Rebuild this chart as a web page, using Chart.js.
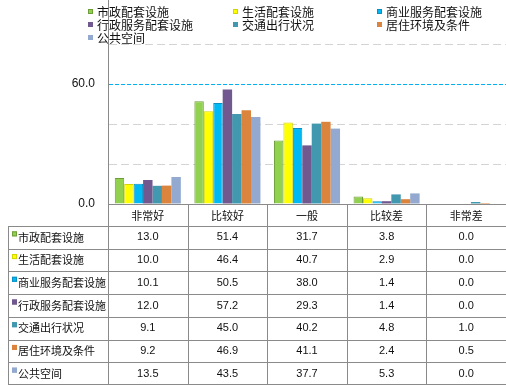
<!DOCTYPE html>
<html>
<head>
<meta charset="utf-8">
<script src="https://cdn.jsdelivr.net/npm/chart.js@4"></script>
<style>
  html, body { margin: 0; padding: 0; background: #fff; }
  #wrap { position: relative; width: 506px; height: 385px; }
</style>
</head>
<body>
<div id="wrap"><canvas id="chart"></canvas></div>
<script>
// categories on the x axis
const categories = ['非常好', '比较好', '一般', '比较差', '非常差'];

// series names
const seriesNames = ['市政配套设施', '生活配套设施', '商业服务配套设施', '行政服务配套设施', '交通出行状况', '居住环境及条件', '公共空间'];

// series values (%)
const shizheng  = [13.0, 51.4, 31.7, 3.8, 0.0];
const shenghuo  = [10.0, 46.4, 40.7, 2.9, 0.0];
const shangye   = [10.1, 50.5, 38.0, 1.4, 0.0];
const xingzheng = [12.0, 57.2, 29.3, 1.4, 0.0];
const jiaotong  = [9.1, 45.0, 40.2, 4.8, 1.0];
const juzhu     = [9.2, 46.9, 41.1, 2.4, 0.5];
const gonggong  = [13.5, 43.5, 37.7, 5.3, 0.0];

// y tick labels that are printed
const yTickLabels = [0, 60];

const seriesValues = [shizheng, shenghuo, shangye, xingzheng, jiaotong, juzhu, gonggong];
const fills   = ['#92D050', '#FFFF00', '#00B8F4', '#71588F', '#4198AF', '#DB843D', '#93A9CF'];
const edges   = ['#6E9E3A', '#D4D400', '#0A8FC4', '#71588F', '#4198AF', '#DB843D', '#93A9CF'];
const edgeW   = [1, 1, 1, 0, 0, 0, 0];

const latinFont = '"Liberation Sans", "Noto Sans CJK SC", sans-serif';
const cjkFont = '"Noto Sans CJK SC", sans-serif';
const lineGray = '#8A8A8A';

// legend in a 3-column grid over the top of the plot
const gridLegend = {
    id: 'gridLegend',
    afterDraw(chart) {
        const ctx = chart.ctx;
        const colX = [88, 233, 377];
        const rowY = [12, 25, 38];
        ctx.save();
        ctx.font = '12px ' + cjkFont;
        ctx.textBaseline = 'middle';
        ctx.textAlign = 'left';
        seriesNames.forEach((name, i) => {
            const x = colX[i % 3];
            const y = rowY[Math.floor(i / 3)];
            ctx.fillStyle = fills[i];
            ctx.fillRect(x, y - 3, 5, 5);
            ctx.strokeStyle = edges[i];
            ctx.lineWidth = 1;
            ctx.strokeRect(x + 0.5, y - 2.5, 4, 4);
            ctx.fillStyle = '#111';
            ctx.fillText(name, x + 9, y);
        });
        ctx.restore();
    }
};

// dashed horizontal gridlines: gray ones, cyan one at 60
const hGrid = {
    id: 'hGrid',
    beforeDatasetsDraw(chart) {
        const ctx = chart.ctx;
        const a = chart.chartArea;
        const ys = chart.scales.y;
        ctx.save();
        ctx.lineWidth = 1;
        ys.ticks.forEach(t => {
            if (t.value === 0) return;
            const y = Math.round(ys.getPixelForValue(t.value)) + 0.5;
            if (t.value === 60) {
                ctx.strokeStyle = '#00B0F0';
                ctx.setLineDash([4, 2]);
            } else {
                ctx.strokeStyle = '#D4D4D4';
                ctx.setLineDash([8, 4]);
            }
            ctx.beginPath();
            ctx.moveTo(a.left + 1, y);
            ctx.lineTo(a.right, y);
            ctx.stroke();
        });
        ctx.restore();
    }
};

// data table under the x axis
const dataTable = {
    id: 'dataTable',
    afterDraw(chart) {
        const ctx = chart.ctx;
        const xs = chart.scales.x;
        const a = chart.chartArea;
        const H = chart.height;
        const tableTop = 226;
        const rowH = (H - tableTop) / seriesNames.length;
        const tableLeft = 8;
        const catW = (a.right - a.left) / categories.length;
        ctx.save();
        ctx.strokeStyle = lineGray;
        ctx.lineWidth = 1;
        ctx.beginPath();
        // vertical column lines
        for (let i = 0; i <= categories.length; i++) {
            const x = Math.round(a.left + i * catW) + 0.5;
            ctx.moveTo(x, a.bottom);
            ctx.lineTo(x, H);
        }
        ctx.moveTo(tableLeft + 0.5, tableTop);
        ctx.lineTo(tableLeft + 0.5, H);
        // horizontal row lines
        for (let r = 0; r <= seriesNames.length; r++) {
            const y = Math.min(Math.round(tableTop + r * rowH), H - 1) + 0.5;
            ctx.moveTo(tableLeft, y);
            ctx.lineTo(chart.width, y);
        }
        ctx.stroke();

        ctx.textBaseline = 'middle';
        seriesNames.forEach((name, r) => {
            const cy = tableTop + r * rowH + rowH / 2;
            ctx.fillStyle = fills[r];
            ctx.fillRect(12, cy - 6, 5, 5);
            ctx.strokeStyle = edges[r];
            ctx.strokeRect(12.5, cy - 5.5, 4, 4);
            ctx.fillStyle = '#111';
            ctx.textAlign = 'left';
            ctx.font = '11px ' + cjkFont;
            ctx.fillText(name, 18, cy);
            ctx.textAlign = 'center';
            ctx.font = '11px ' + latinFont;
            seriesValues[r].forEach((v, c) => {
                ctx.fillText(v.toFixed(1), xs.getPixelForValue(c), cy);
            });
        });
        ctx.restore();
    }
};

const datasets = seriesNames.map((name, i) => ({
    label: name,
    data: seriesValues[i],
    backgroundColor: fills[i],
    borderColor: edges[i],
    borderWidth: edgeW[i],
    borderSkipped: 'bottom',
    categoryPercentage: 0.83,
    barPercentage: 1.0
}));

const chart = new Chart(document.getElementById('chart'), {
    type: 'bar',
    data: { labels: categories, datasets: datasets },
    plugins: [hGrid, gridLegend, dataTable],
    options: {
        responsive: true,
        maintainAspectRatio: false,
        animation: false,
        layout: { padding: { left: 0, right: -4.5, top: 0, bottom: 0 } },
        plugins: {
            legend: { display: false },
            tooltip: { enabled: false }
        },
        scales: {
            x: {
                grid: { display: false, drawTicks: false },
                border: { display: true, color: lineGray, width: 1 },
                ticks: {
                    color: '#111',
                    font: { family: cjkFont, size: 11 },
                    padding: 5,
                    maxRotation: 0,
                    autoSkip: false
                },
                afterFit(scale) {
                    scale.height = 181;
                    scale.paddingLeft = 0;
                    scale.paddingRight = 0;
                }
            },
            y: {
                min: 0,
                max: 102,
                grid: { drawOnChartArea: false, drawTicks: false },
                border: { display: true, color: lineGray, width: 1 },
                ticks: {
                    stepSize: 20,
                    padding: 13,
                    color: '#111',
                    font: { family: latinFont, size: 12 },
                    callback: v => yTickLabels.includes(v) ? v.toFixed(1) : ''
                },
                afterBuildTicks(scale) {
                    scale.ticks = scale.ticks.filter(t => t.value % 20 === 0);
                },
                afterFit(scale) {
                    scale.width = 108;
                    scale.paddingTop = 0;
                    scale.paddingBottom = 0;
                }
            }
        }
    }
});
</script>
</body>
</html>
